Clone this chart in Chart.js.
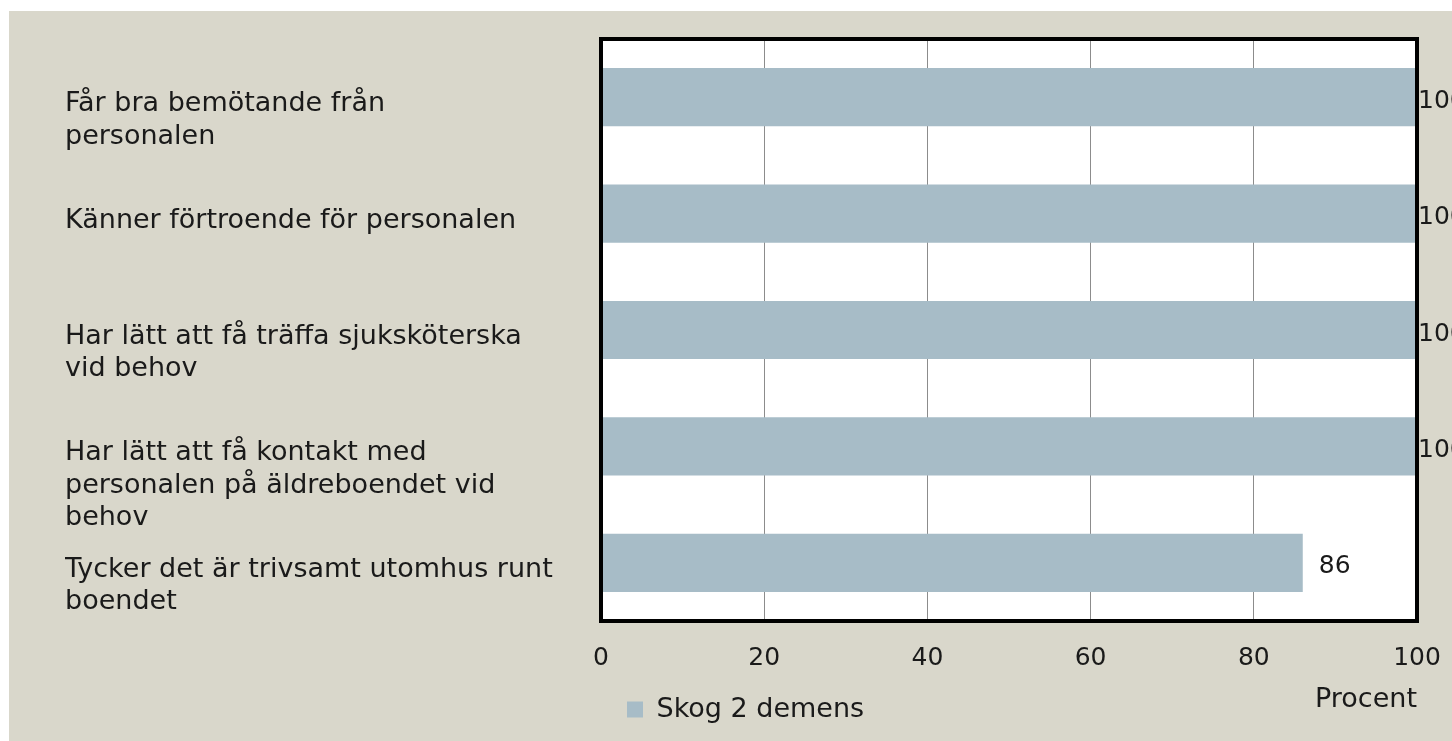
<!DOCTYPE html>
<html>
<head>
<meta charset="utf-8">
<title>Skog 2 demens</title>
<script src="https://cdn.jsdelivr.net/npm/chart.js@4/dist/chart.umd.min.js"></script>
<style>
    body { margin: 0; background: #ffffff; }
    #wrap { position: absolute; left: 9px; top: 11px; width: 1443px; height: 730px; background: #d9d7cb; }
</style>
</head>
<body>
<div id="wrap">
    <canvas id="chart" width="1443" height="730"></canvas>
</div>
<script>
// Chart data
const categories = [
    ['Får bra bemötande från', 'personalen'],
    ['Känner förtroende för personalen'],
    ['Har lätt att få träffa sjuksköterska', 'vid behov'],
    ['Har lätt att få kontakt med', 'personalen på äldreboendet vid', 'behov'],
    ['Tycker det är trivsamt utomhus runt', 'boendet']
];
const seriesName = 'Skog 2 demens';
const values = [100, 100, 100, 100, 86];
const xTicks = [0, 20, 40, 60, 80, 100];

Chart.defaults.font.family = "'DejaVu Sans', sans-serif";
Chart.defaults.color = '#1a1a1a';

// first line of a wrapped label sits on the bar, the rest hangs below
function padLines(lines) {
    return Array(lines.length - 1).fill('').concat(lines);
}

const plotFrame = {
    id: 'plotFrame',
    beforeDraw(chart) {
        const a = chart.chartArea;
        const ctx = chart.ctx;
        ctx.save();
        ctx.fillStyle = '#ffffff';
        ctx.fillRect(a.left, a.top, a.right - a.left, a.bottom - a.top);
        ctx.restore();
    },
    afterDatasetsDraw(chart) {
        const a = chart.chartArea;
        const ctx = chart.ctx;
        ctx.save();
        ctx.strokeStyle = '#000000';
        ctx.lineWidth = 4;
        ctx.strokeRect(a.left, a.top, a.right - a.left, a.bottom - a.top);

        // value labels
        ctx.fillStyle = '#1a1a1a';
        ctx.font = "25px 'DejaVu Sans', sans-serif";
        ctx.textAlign = 'left';
        ctx.textBaseline = 'middle';
        chart.getDatasetMeta(0).data.forEach((bar, i) => {
            const x = Math.min(bar.x + 16, a.right + 1);
            ctx.fillText(String(values[i]), x, bar.y + 4);
        });
        ctx.restore();
    }
};

new Chart(document.getElementById('chart'), {
    type: 'bar',
    data: {
        labels: categories.map(c => c.join(' ')),
        datasets: [{
            label: seriesName,
            data: values,
            backgroundColor: '#a7bcc7',
            borderWidth: 0,
            categoryPercentage: 1,
            barPercentage: 0.5
        }]
    },
    options: {
        indexAxis: 'y',
        responsive: false,
        animation: false,
        layout: {
            padding: { top: 28, right: 35, left: 56, bottom: 8 }
        },
        plugins: {
            legend: {
                position: 'bottom',
                align: 'start',
                fullSize: false,
                labels: {
                    boxWidth: 16,
                    boxHeight: 16,
                    padding: 26,
                    font: { size: 27 },
                    color: '#1a1a1a'
                }
            },
            tooltip: { enabled: false }
        },
        scales: {
            x: {
                min: 0,
                max: 100,
                afterBuildTicks: scale => {
                    scale.ticks = xTicks.map(v => ({ value: v }));
                },
                grid: { color: '#8c8c8c', lineWidth: 1, drawTicks: false },
                border: { display: false },
                ticks: { padding: 22, font: { size: 25 }, color: '#1a1a1a' },
                title: {
                    display: true,
                    text: 'Procent',
                    align: 'end',
                    font: { size: 27 },
                    color: '#1a1a1a',
                    padding: { top: 0, bottom: -46 }
                },
                afterFit: scale => {
                    scale.height = 49;
                    scale.paddingLeft = 0;
                    scale.paddingRight = 0;
                }
            },
            y: {
                grid: { display: false },
                border: { display: false },
                ticks: {
                    autoSkip: false,
                    crossAlign: 'far',
                    labelOffset: 7,
                    font: { size: 27, lineHeight: 1.2 },
                    color: '#1a1a1a',
                    callback: (value, index) => padLines(categories[index])
                },
                afterFit: scale => {
                    scale.width = 536;
                    scale.paddingTop = 0;
                    scale.paddingBottom = 0;
                }
            }
        }
    },
    plugins: [plotFrame]
});
</script>
</body>
</html>
